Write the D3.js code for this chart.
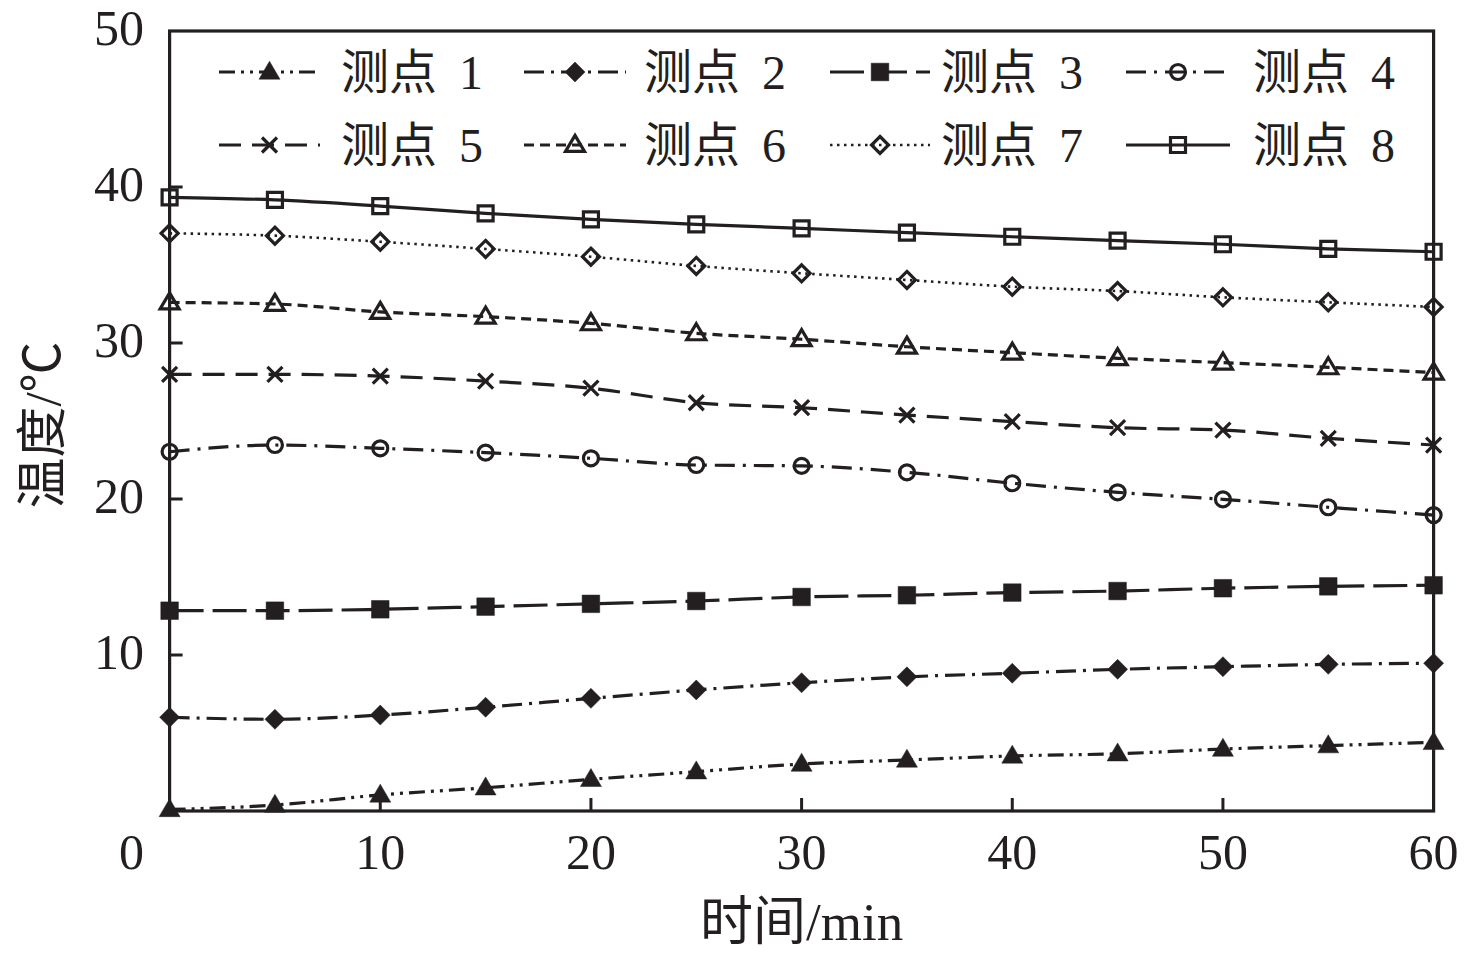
<!DOCTYPE html>
<html>
<head>
<meta charset="utf-8">
<script src="https://cdn.jsdelivr.net/npm/d3@7"></script>
<style>
  html, body { margin: 0; padding: 0; background: #fff; }
  svg { display: block; }
  text { font-family: "Liberation Serif", "Noto Sans CJK SC", serif; fill: #231f20; }
</style>
</head>
<body>
<svg id="chart" width="1476" height="959"></svg>
<script>
// ---- data ----
const times = [0, 5, 10, 15, 20, 25, 30, 35, 40, 45, 50, 55, 60];
const seriesNames = ["测点 1", "测点 2", "测点 3", "测点 4", "测点 5", "测点 6", "测点 7", "测点 8"];
const s1 = [0.10, 0.38, 1.03, 1.49, 2.03, 2.52, 3.01, 3.27, 3.53, 3.67, 3.97, 4.19, 4.40];
const s2 = [6.01, 5.88, 6.15, 6.65, 7.22, 7.76, 8.22, 8.60, 8.83, 9.08, 9.25, 9.40, 9.47];
const s3 = [12.84, 12.84, 12.93, 13.10, 13.28, 13.46, 13.72, 13.83, 14.00, 14.10, 14.28, 14.40, 14.47];
const s4 = [23.03, 23.46, 23.25, 22.97, 22.61, 22.18, 22.12, 21.71, 21.01, 20.43, 19.98, 19.47, 18.97];
const s5 = [27.99, 27.99, 27.88, 27.56, 27.10, 26.17, 25.85, 25.38, 24.96, 24.57, 24.42, 23.89, 23.46];
const s6 = [32.60, 32.50, 31.99, 31.69, 31.26, 30.62, 30.24, 29.76, 29.38, 29.02, 28.74, 28.44, 28.10];
const s7 = [37.03, 36.88, 36.49, 36.03, 35.53, 34.94, 34.47, 34.04, 33.61, 33.33, 32.93, 32.61, 32.31];
const s8 = [39.34, 39.17, 38.78, 38.31, 37.93, 37.61, 37.35, 37.07, 36.81, 36.56, 36.33, 36.03, 35.85];
const seriesValues = [s1, s2, s3, s4, s5, s6, s7, s8];
const xTickValues = [10, 20, 30, 40, 50, 60];
const yTickValues = [10, 20, 30, 40, 50];
const xTitle = "时间/min";
const yTitle = "温度/℃";

// ---- styles (not data) ----
const INK = "#231f20";
const markers = ["triFill", "diaFill", "sqFill", "circle", "cross", "triOpen", "diaOpen", "sqOpen"];
const dashes = ["16,6,3,6,3,6", "20,7,3,7", "34,9", "20,8,3,8", "22,11", "10,6", "2.5,4.5", null];

const svg = d3.select("#chart");
const L = 169.6, R = 1433.6, T = 31, B = 811;
const x = d3.scaleLinear().domain([0, 60]).range([L, R]);
const y = d3.scaleLinear().domain([0, 50]).range([B, T]);

function markerPath(type) {
  switch (type) {
    case "triFill": case "triOpen": {
      const w = type === "triFill" ? 10.5 : 9.5, h = type === "triFill" ? 18 : 16;
      return `M0,${-h*0.6}L${w},${h*0.4}L${-w},${h*0.4}Z`;
    }
    case "diaFill": return "M0,-10L10,0L0,10L-10,0Z";
    case "diaOpen": return "M0,-8.5L8.5,0L0,8.5L-8.5,0Z";
    case "sqFill": return "M-8.8,-8.8H8.8V8.8H-8.8Z";
    case "sqOpen": return "M-7.5,-7.5H7.5V7.5H-7.5Z";
    case "circle": return "M7.5,0A7.5,7.5 0 1 1 -7.5,0A7.5,7.5 0 1 1 7.5,0Z";
    case "cross": return "M-7.5,-7.5L7.5,7.5M7.5,-7.5L-7.5,7.5";
  }
}
function styleMarker(sel, type) {
  const filled = type === "triFill" || type === "diaFill" || type === "sqFill";
  sel.attr("d", markerPath(type))
    .attr("fill", filled ? INK : "none")
    .attr("stroke", INK)
    .attr("stroke-width", filled ? 0.5 : 3.2)
    .attr("stroke-linejoin", "miter");
}

// ---- lines ----
const line = d3.line().x(d => x(d[0])).y(d => y(d[1])).curve(d3.curveMonotoneX);
const gData = svg.append("g");
seriesValues.forEach((vals, i) => {
  const pts = times.map((t, k) => [t, vals[k]]);
  gData.append("path")
    .attr("d", line(pts))
    .attr("fill", "none")
    .attr("stroke", INK)
    .attr("stroke-width", i === 6 ? 2.6 : 3.2)
    .attr("stroke-dasharray", dashes[i]);
  gData.selectAll(null).data(pts).enter().append("path")
    .attr("transform", d => `translate(${x(d[0])},${y(d[1])})`)
    .call(styleMarker, markers[i]);
});

// ---- frame & ticks ----
svg.append("rect").attr("x", L).attr("y", T).attr("width", R - L).attr("height", B - T)
  .attr("fill", "none").attr("stroke", INK).attr("stroke-width", 3.2);
const TK = 13;
svg.append("g").selectAll("line").data(xTickValues.filter(v => v < 60)).enter().append("line")
  .attr("x1", d => x(d)).attr("x2", d => x(d)).attr("y1", B).attr("y2", B - TK)
  .attr("stroke", INK).attr("stroke-width", 3);
svg.append("g").selectAll("line").data(yTickValues.filter(v => v < 50)).enter().append("line")
  .attr("x1", L).attr("x2", L + TK).attr("y1", d => y(d)).attr("y2", d => y(d))
  .attr("stroke", INK).attr("stroke-width", 3);

// tick labels
svg.append("g").selectAll("text").data(xTickValues).enter().append("text")
  .attr("x", d => x(d)).attr("y", 869).attr("text-anchor", "middle")
  .attr("font-size", 50).text(d => d);
svg.append("g").selectAll("text").data(yTickValues).enter().append("text")
  .attr("x", 144).attr("y", d => y(d) + 14).attr("text-anchor", "end")
  .attr("font-size", 50).text(d => d);
svg.append("text").attr("x", 144).attr("y", 869).attr("text-anchor", "end")
  .attr("font-size", 50).text("0");

// axis titles
svg.append("text").attr("x", (L + R) / 2).attr("y", 940).attr("text-anchor", "middle")
  .attr("font-size", 53).text(xTitle);
svg.append("text").attr("transform", "translate(60,425) rotate(-90)").attr("text-anchor", "middle")
  .attr("font-size", 51).text(yTitle);

// ---- legend ----
const colStart = [219, 524, 830, 1126];
const colEnd = [320, 626, 930, 1230];
const colText = [341, 644, 941, 1253];
const rowY = [72, 145];
const gLeg = svg.append("g");
seriesNames.forEach((name, i) => {
  const c = i % 4, r = Math.floor(i / 4);
  const yy = rowY[r];
  gLeg.append("line").attr("x1", colStart[c]).attr("x2", colEnd[c]).attr("y1", yy).attr("y2", yy)
    .attr("stroke", INK).attr("stroke-width", i === 6 ? 2.6 : 3.2).attr("stroke-dasharray", dashes[i]);
  gLeg.append("path").attr("transform", `translate(${(colStart[c] + colEnd[c]) / 2},${yy})`)
    .call(styleMarker, markers[i]);
  const parts = name.split(" ");
  const t = gLeg.append("text").attr("x", colText[c]).attr("y", yy + 17).attr("font-size", 48);
  t.append("tspan").text(parts[0]);
  t.append("tspan").attr("dx", 22).text(parts[1]);
});
</script>
</body>
</html>
